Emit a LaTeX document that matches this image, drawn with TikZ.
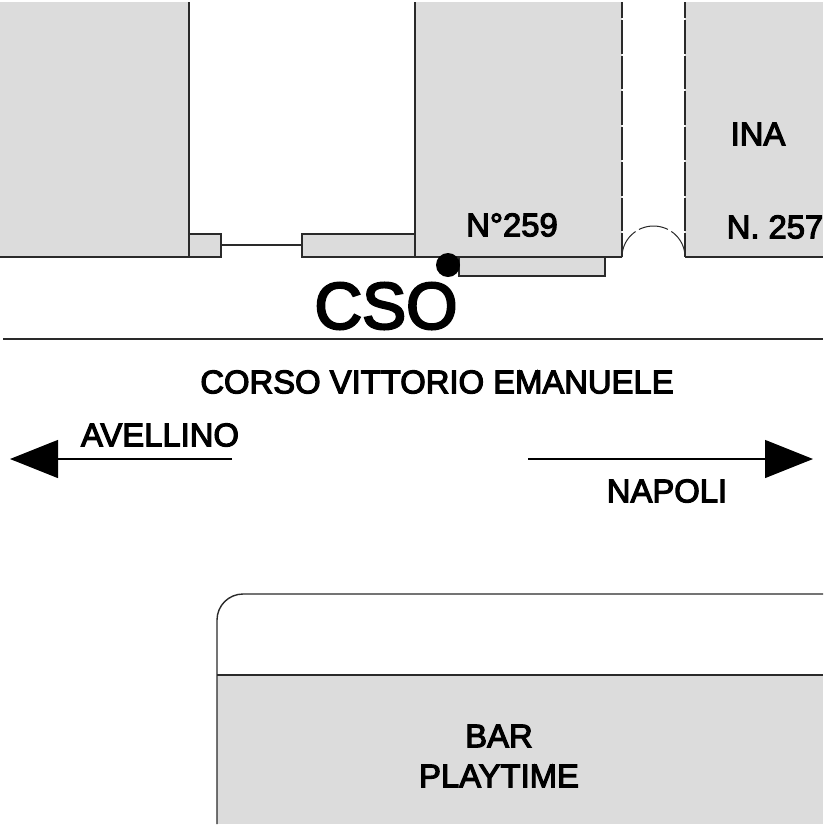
\documentclass[tikz,border=0pt]{standalone}
\usepackage{fontspec}
\setmainfont{Liberation Sans}
\newfontfamily\lblfont[FakeBold=3.5]{Liberation Sans}
\usetikzlibrary{arrows.meta}
\definecolor{blockgray}{HTML}{DCDCDC}
\definecolor{wallink}{HTML}{2A2A2A}
\tikzset{
  block/.style={fill=blockgray,draw=wallink,line width=0.7pt},
  wall/.style={draw=wallink,line width=0.7pt},
  opening/.style={draw=wallink,line width=0.7pt,dash pattern=on 16.75pt off 1pt,dash phase=8.75pt},
  lbl/.style={font=\lblfont\fontsize{16.4}{18}\selectfont,inner sep=0pt,text=black},
  roadarrow/.style={draw=black,line width=0.6pt,-{Triangle[length=24pt,width=19pt]}}
}
\begin{document}
\begin{tikzpicture}[x=0.5pt,y=-0.5pt]
  \useasboundingbox (0,0) rectangle (826,826);
  % buildings
  \fill[blockgray] (0,2) rectangle (189,257);
  \draw[wall] (189,2) -- (189,257) -- (0,257);
  \fill[blockgray] (415,2) rectangle (622,257);
  \draw[wall] (415,2) -- (415,257) -- (622,257);
  \draw[opening] (622,2) -- (622,257);
  \fill[blockgray] (685,2) rectangle (823,257);
  \draw[wall] (685,257) -- (823,257);
  \draw[opening] (685,2) -- (685,257);
  \draw[wall,line width=0.5pt,dash pattern=on 15pt off 2pt] (622,257) arc[start angle=180,end angle=360,x radius=31.5,y radius=31];
  % shutter and steps
  \draw[block] (189,234) rectangle (221,257);
  \draw[block] (302,234) rectangle (415,257);
  \draw[wall] (221,245) -- (302,245);
  \draw[block] (459,257) rectangle (605,276);
  \fill[black] (448,265) circle[radius=12];
  % street
  \draw[wall] (3,339) -- (823,339);
  \coordinate (avStart) at (232,459);
  \coordinate (avEnd) at (10,459);
  \coordinate (naStart) at (528,459);
  \coordinate (naEnd) at (813,459);
  \draw[roadarrow] (avStart) -- (avEnd);
  \draw[roadarrow] (naStart) -- (naEnd);
  % bar
  \fill[blockgray] (217,675) rectangle (823,824);
  \draw[wall] (217,824) -- (217,620) arc[start angle=180,end angle=270,radius=26] -- (823,594);
  \draw[wall] (217,675) -- (823,675);
  % labels
  \node[lbl] (inaLbl) at (758,134) {INA};
  \node[lbl] (n259Lbl) at (512,225) {N°259};
  \node[lbl] (n257Lbl) at (775,227) {N. 257};
  \node[inner sep=0pt,font=\lblfont\fontsize{33}{36}\selectfont] (csoLbl) at (386,306) {CSO};
  \node[lbl] (corsoLbl) at (437,382) {CORSO VITTORIO EMANUELE};
  \node[lbl] (avellinoLbl) at (160,435) {AVELLINO};
  \node[lbl] (napoliLbl) at (667,491) {NAPOLI};
  \node[lbl] (barLbl) at (499,736) {BAR};
  \node[lbl] (playtimeLbl) at (499,776) {PLAYTIME};
\end{tikzpicture}
\end{document}
